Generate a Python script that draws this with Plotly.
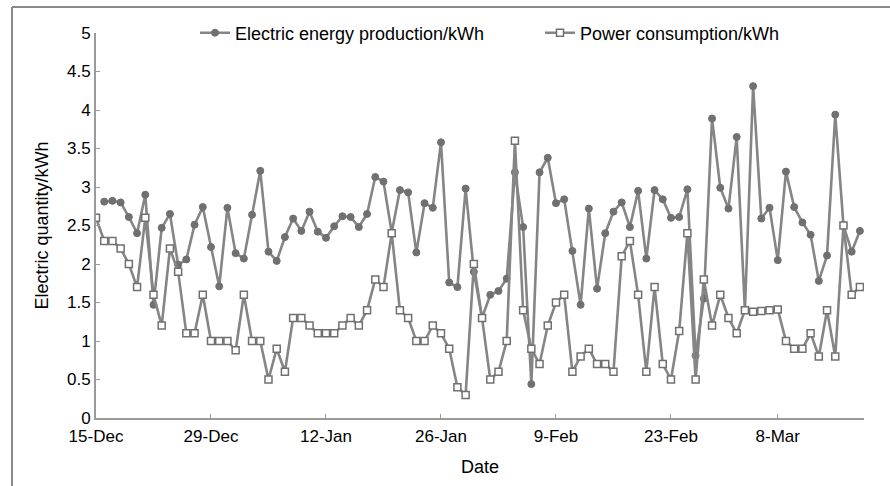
import pandas as pd
import plotly.graph_objects as go

start_date = "2018-12-15"
n_days = 94
dates = pd.date_range(start_date, periods=n_days, freq="D")

production = [
    None, 2.81, 2.82, 2.80, 2.61, 2.40, 2.90, 1.47, 2.47, 2.65,
    1.99, 2.06, 2.51, 2.74, 2.22, 1.71, 2.73, 2.14, 2.07, 2.64,
    3.21, 2.16, 2.04, 2.35, 2.59, 2.43, 2.68, 2.42, 2.34, 2.49,
    2.62, 2.61, 2.48, 2.65, 3.13, 3.07, 2.41, 2.96, 2.93, 2.15,
    2.79, 2.73, 3.58, 1.76, 1.70, 2.98, 1.90, 1.30, 1.60, 1.65,
    1.81, 3.19, 2.48, 0.44, 3.19, 3.38, 2.79, 2.84, 2.17, 1.47,
    2.72, 1.68, 2.40, 2.68, 2.80, 2.48, 2.95, 2.07, 2.96, 2.84,
    2.60, 2.61, 2.97, 0.81, 1.55, 3.89, 2.99, 2.72, 3.65, 1.40,
    4.31, 2.59, 2.73, 2.05, 3.20, 2.74, 2.54, 2.38, 1.78, 2.11,
    3.94, 2.50, 2.16, 2.43,
]

consumption = [
    2.60, 2.30, 2.30, 2.20, 2.00, 1.70, 2.60, 1.60, 1.20, 2.20,
    1.90, 1.10, 1.10, 1.60, 1.00, 1.00, 1.00, 0.88, 1.60, 1.00,
    1.00, 0.50, 0.90, 0.60, 1.30, 1.30, 1.20, 1.10, 1.10, 1.10,
    1.20, 1.30, 1.20, 1.40, 1.80, 1.70, 2.40, 1.40, 1.30, 1.00,
    1.00, 1.20, 1.10, 0.90, 0.40, 0.30, 2.00, 1.30, 0.50, 0.60,
    1.00, 3.60, 1.40, 0.90, 0.70, 1.20, 1.50, 1.60, 0.60, 0.80,
    0.90, 0.70, 0.70, 0.60, 2.10, 2.30, 1.60, 0.60, 1.70, 0.70,
    0.50, 1.13, 2.40, 0.50, 1.80, 1.20, 1.60, 1.30, 1.10, 1.40,
    1.38, 1.39, 1.40, 1.41, 1.00, 0.90, 0.90, 1.10, 0.80, 1.40,
    0.80, 2.50, 1.60, 1.70,
]

x_tick_dates = ["2018-12-15", "2018-12-29", "2019-01-12", "2019-01-26",
                "2019-02-09", "2019-02-23", "2019-03-08"]
x_tick_labels = ["15-Dec", "29-Dec", "12-Jan", "26-Jan", "9-Feb", "23-Feb", "8-Mar"]
y_tick_vals = [0, 0.5, 1, 1.5, 2, 2.5, 3, 3.5, 4, 4.5, 5]
y_tick_labels = ["0", "0.5", "1", "1.5", "2", "2.5", "3", "3.5", "4", "4.5", "5"]

FONT = "Liberation Sans, Arial, sans-serif"
LINE_COLOR = "#858585"
MARK_COLOR = "#707070"

fig = go.Figure()
fig.add_trace(go.Scatter(
    x=dates, y=production, mode="lines+markers",
    name="Electric energy production/kWh",
    line=dict(color=LINE_COLOR, width=2.6),
    marker=dict(symbol="circle", size=7, color=MARK_COLOR,
                line=dict(color=MARK_COLOR, width=1)),
    connectgaps=False, legend="legend",
))
fig.add_trace(go.Scatter(
    x=dates, y=consumption, mode="lines+markers",
    name="Power consumption/kWh",
    line=dict(color=LINE_COLOR, width=2.6),
    marker=dict(symbol="square", size=7, color="white",
                line=dict(color=MARK_COLOR, width=1.5)),
    legend="legend2",
))

W, H = 890, 486
L, R, T, B = 96, 26, 33, 68
pw, ph = W - L - R, H - T - B

def px_x(p):
    return (p - L) / pw

def px_y(p):
    return (H - B - p) / ph

fig.update_layout(
    width=W, height=H,
    margin=dict(l=L, r=R, t=T, b=B),
    paper_bgcolor="white", plot_bgcolor="white",
    font=dict(family=FONT, size=17, color="black"),
    showlegend=True,
    legend=dict(x=px_x(195), y=1.0, xanchor="left", yanchor="middle",
                orientation="h", font=dict(size=18), bgcolor="rgba(0,0,0,0)",
                itemwidth=30),
    legend2=dict(x=px_x(540), y=1.0, xanchor="left", yanchor="middle",
                 orientation="h", font=dict(size=18), bgcolor="rgba(0,0,0,0)",
                 itemwidth=30),
    xaxis=dict(
        range=["2018-12-15", "2019-03-18 12:00"],
        tickvals=x_tick_dates, ticktext=x_tick_labels,
        showgrid=False, zeroline=False,
        showline=True, linecolor="#9a9a9a", linewidth=2,
        ticks="inside", ticklen=4, tickcolor="#9a9a9a", tickwidth=1,
        tickfont=dict(size=17), ticklabelstandoff=2,
        title=dict(text="Date", font=dict(size=18), standoff=15),
    ),
    yaxis=dict(
        range=[0, 5],
        tickvals=y_tick_vals, ticktext=y_tick_labels,
        showgrid=False, zeroline=False,
        showline=True, linecolor="#9a9a9a", linewidth=2,
        ticks="inside", ticklen=4, tickcolor="#9a9a9a", tickwidth=1,
        tickfont=dict(size=17),
        title=dict(text="Electric quantity/kWh", font=dict(size=18), standoff=14),
    ),
    shapes=[
        dict(type="line", xref="paper", yref="paper",
             x0=px_x(12), x1=px_x(890), y0=px_y(7), y1=px_y(7),
             line=dict(color="#8a8a8a", width=2)),
        dict(type="line", xref="paper", yref="paper",
             x0=px_x(12), x1=px_x(12), y0=px_y(7), y1=px_y(486),
             line=dict(color="#8a8a8a", width=2)),
    ],
)

fig.write_html("out.html")
